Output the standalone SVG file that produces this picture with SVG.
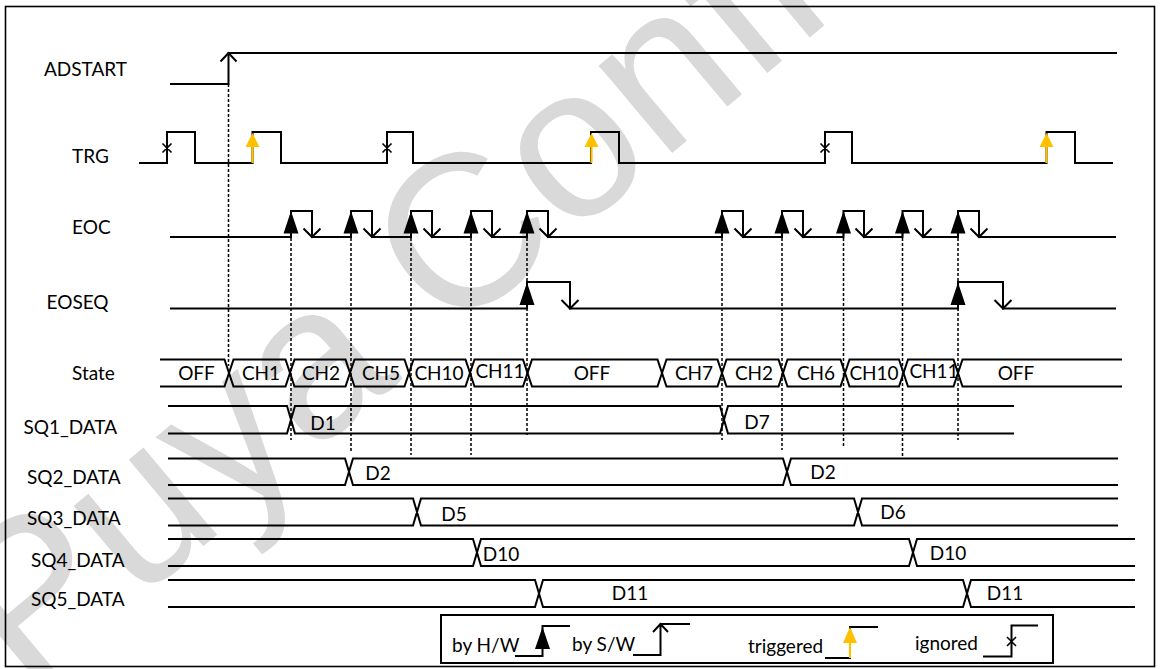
<svg xmlns="http://www.w3.org/2000/svg" width="1161" height="669" viewBox="0 0 1161 669">
<style>
.w{stroke:#000;stroke-width:2;fill:none}
.th{stroke:#000;stroke-width:1.6;fill:none}
.dot{stroke:#000;stroke-width:1.5;stroke-dasharray:3 2;fill:none}
.lbl{font-family:Lato,"Liberation Sans",sans-serif;font-size:19px;fill:#000}
.mid{text-anchor:middle}
.tri{fill:#000}
.ytri{fill:#FFC000}
.yl{stroke:#FFC000;stroke-width:2.2;fill:none}
.wm{font-family:"Liberation Sans",Arial,sans-serif;font-size:216px;fill:#d9d9d9}
</style>
<rect width="1161" height="669" fill="#fff"/>
<text class="wm" transform="translate(26,695) rotate(-40)">Puya Confidential</text>
<rect x="5.5" y="6.5" width="1149" height="660" fill="none" stroke="#000" stroke-width="1.6"/>

<g id="connectors">
<path class="dot" d="M228.5,84 V366 M291,233 V440 M351,233 V452 M411,233 V455 M471,233 V455 M527,233 V435 M722,233 V440 M782,233 V450 M843.5,233 V446 M902.5,233 V457 M958,233 V440"/>
</g>

<g id="ADSTART">
<text class="lbl" x="44" y="76">ADSTART</text>
<path class="w" d="M170,84 H228.5 V53 H1117"/>
<path class="w" d="M220.5,61.5 L228.5,53 L236.5,61.5"/>
</g>

<g id="TRG">
<text class="lbl" x="72" y="163">TRG</text>
<path class="w" d="M139,163 H167 V132 H195 V163 H252.5 V132 H281 V163 H387 V132 H413 V163 H591 V132 H619 V163 H825 V132 H852 V163 H1046.5 V132 H1075 V163 H1113"/>
<path class="th" d="M162.5,143.5 L171.5,152.5 M171.5,143.5 L162.5,152.5 M382.5,143.5 L391.5,152.5 M391.5,143.5 L382.5,152.5 M820.5,143.5 L829.5,152.5 M829.5,143.5 L820.5,152.5"/>
<path class="yl" d="M252.5,163 V145 M591.5,163 V145 M1046.5,163 V145"/>
<path class="ytri" d="M252.5,133 L245.5,147 L259.5,147 Z M591.5,133 L584.5,147 L598.5,147 Z M1046.5,133 L1039.5,147 L1053.5,147 Z"/>
</g>

<g id="EOC">
<text class="lbl" x="72" y="233.5">EOC</text>
<path class="w" d="M170,237 H291 V211 H312 V237 H351 V211 H372 V237 H411 V211 H432 V237 H471 V211 H492 V237 H527 V211 H548 V237 H722 V211 H743 V237 H782 V211 H803 V237 H843.5 V211 H864 V237 H902.5 V211 H923 V237 H958 V211 H979 V237 H1116"/>
<path class="w" d="M303.5,228.5 L312,237 L320.5,228.5 M363.5,228.5 L372,237 L380.5,228.5 M423.5,228.5 L432,237 L440.5,228.5 M483.5,228.5 L492,237 L500.5,228.5 M539.5,228.5 L548,237 L556.5,228.5 M734.5,228.5 L743,237 L751.5,228.5 M794.5,228.5 L803,237 L811.5,228.5 M855.5,228.5 L864,237 L872.5,228.5 M914.5,228.5 L923,237 L931.5,228.5 M970.5,228.5 L979,237 L987.5,228.5"/>
<path class="tri" d="M291,211 L283.5,233.5 L298.5,233.5 Z M351,211 L343.5,233.5 L358.5,233.5 Z M411,211 L403.5,233.5 L418.5,233.5 Z M471,211 L463.5,233.5 L478.5,233.5 Z M527,211 L519.5,233.5 L534.5,233.5 Z M722,211 L714.5,233.5 L729.5,233.5 Z M782,211 L774.5,233.5 L789.5,233.5 Z M843.5,211 L836,233.5 L851,233.5 Z M902.5,211 L895,233.5 L910,233.5 Z M958,211 L950.5,233.5 L965.5,233.5 Z"/>
</g>

<g id="EOSEQ">
<text class="lbl" x="46.5" y="308.5">EOSEQ</text>
<path class="w" d="M170,308.5 H527 V282 H570 V308.5 H958 V282 H1003 V308.5 H1116"/>
<path class="w" d="M561.5,300 L570,308.5 L578.5,300 M994.5,300 L1003,308.5 L1011.5,300"/>
<path class="tri" d="M527,282.5 L519.5,305 L534.5,305 Z M958,282.5 L950.5,305 L965.5,305 Z"/>
</g>

<g id="State">
<text class="lbl" x="72" y="379.5">State</text>
<path class="w" d="M160,359.5 H224.5 L233.5,386.5 H285.5 L294.5,359.5 H345.5 L354.5,386.5 H404.5 L413.5,359.5 H465.5 L474.5,386.5 H523 L532,359.5 H657.5 L666.5,386.5 H717.5 L726.5,359.5 H778.5 L787.5,386.5 H840.5 L849.5,359.5 H899 L908,386.5 H953.5 L962.5,359.5 H1122"/>
<path class="w" d="M160,386.5 H224.5 L233.5,359.5 H285.5 L294.5,386.5 H345.5 L354.5,359.5 H404.5 L413.5,386.5 H465.5 L474.5,359.5 H523 L532,386.5 H657.5 L666.5,359.5 H717.5 L726.5,386.5 H778.5 L787.5,359.5 H840.5 L849.5,386.5 H899 L908,359.5 H953.5 L962.5,386.5 H1122"/>
<g class="lbl mid">
<text x="196.5" y="380">OFF</text>
<text x="261" y="380">CH1</text>
<text x="321" y="380">CH2</text>
<text x="381" y="380">CH5</text>
<text x="439" y="380">CH10</text>
<text x="500" y="378">CH11</text>
<text x="592" y="380">OFF</text>
<text x="694" y="380">CH7</text>
<text x="754" y="380">CH2</text>
<text x="816" y="380">CH6</text>
<text x="874" y="380">CH10</text>
<text x="934" y="378">CH11</text>
<text x="1016" y="380">OFF</text>
</g>
</g>

<g id="SQ1_DATA">
<text class="lbl" x="23.5" y="433.5">SQ1_DATA</text>
<path class="w" d="M168,406 H287 L295,433.5 H720 L728,406 H1014 M168,433.5 H287 L295,406 H720 L728,433.5 H1014"/>
<text class="lbl mid" x="323" y="429.5">D1</text>
<text class="lbl mid" x="757" y="429">D7</text>
</g>

<g id="SQ2_DATA">
<text class="lbl" x="27" y="484">SQ2_DATA</text>
<path class="w" d="M168,458.5 H345 L353,485 H783 L791,458.5 H1118 M168,485 H345 L353,458.5 H783 L791,485 H1118"/>
<text class="lbl mid" x="378" y="479.5">D2</text>
<text class="lbl mid" x="823" y="479">D2</text>
</g>

<g id="SQ3_DATA">
<text class="lbl" x="27" y="525">SQ3_DATA</text>
<path class="w" d="M168,498.5 H413 L421,525.5 H854 L862,498.5 H1118 M168,525.5 H413 L421,498.5 H854 L862,525.5 H1118"/>
<text class="lbl mid" x="454" y="521">D5</text>
<text class="lbl mid" x="893" y="519">D6</text>
</g>

<g id="SQ4_DATA">
<text class="lbl" x="31" y="567">SQ4_DATA</text>
<path class="w" d="M168,539 H473 L481,566 H909 L917,539 H1135 M168,566 H473 L481,539 H909 L917,566 H1135"/>
<text class="lbl mid" x="501" y="561">D10</text>
<text class="lbl mid" x="948" y="560">D10</text>
</g>

<g id="SQ5_DATA">
<text class="lbl" x="31" y="606">SQ5_DATA</text>
<path class="w" d="M168,580 H535 L543,607 H963 L971,580 H1135 M168,607 H535 L543,580 H963 L971,607 H1135"/>
<text class="lbl mid" x="630" y="600">D11</text>
<text class="lbl mid" x="1005" y="600">D11</text>
</g>

<g id="legend">
<rect x="441" y="615" width="612" height="48" fill="none" stroke="#000" stroke-width="2"/>
<text class="lbl" x="452" y="652">by H/W</text>
<path class="w" d="M515,656 H542.5 V626 H570"/>
<path class="tri" d="M542.5,627 L535,649 L550,649 Z"/>
<text class="lbl" x="572" y="651">by S/W</text>
<path class="w" d="M633,655 H660.5 V624 H690 M653,632 L660.5,624 L668,632"/>
<text class="lbl" x="748" y="653">triggered</text>
<path class="w" d="M825,658 H850 V627 H878"/>
<path class="yl" d="M850,658 V641"/>
<path class="ytri" d="M850,627 L843,643 L857,643 Z"/>
<text class="lbl" x="915" y="650">ignored</text>
<path class="w" d="M983,656.5 H1011.5 V625.5 H1038"/>
<path class="th" d="M1007,637 L1016,646 M1016,637 L1007,646"/>
</g>
</svg>
